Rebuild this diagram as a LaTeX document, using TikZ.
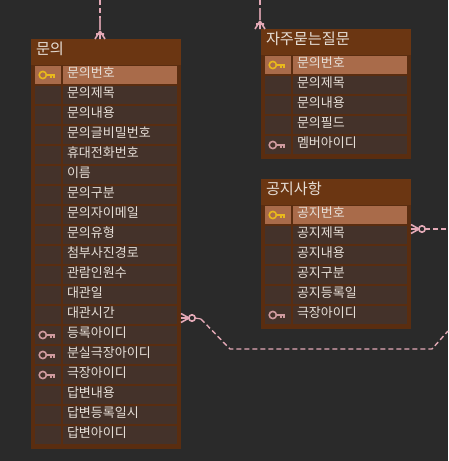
\documentclass[tikz,border=0pt]{standalone}
\usepackage{fontspec}
\setmainfont{Noto Sans CJK KR}
\usetikzlibrary{positioning}
\definecolor{canvasbg}{HTML}{2A2A2A}
\definecolor{headfill}{HTML}{6B3612}
\definecolor{framefill}{HTML}{5A2D10}
\definecolor{rowfill}{HTML}{44322A}
\definecolor{pkfill}{HTML}{A96B4A}
\definecolor{relpink}{HTML}{E3A9B6}
\definecolor{fkpink}{HTML}{CF9A9E}
\definecolor{keygold}{HTML}{E8B81C}
\definecolor{celltext}{HTML}{E6DED6}

\begin{document}
\begin{tikzpicture}[
    x=1pt, y=-1pt,
    outer sep=0pt,
    tablebox/.style={rectangle, fill=framefill, minimum width=150pt, inner sep=0pt},
    headbar/.style={rectangle, fill=headfill, minimum height=26pt, inner ysep=0pt, inner xsep=5pt, text width=140pt, text=celltext, font=\fontsize{15.2}{15.2}\selectfont, align=left, text height=10.5pt, text depth=5.5pt},
    valrow/.style={rectangle, fill=rowfill, minimum height=18pt, inner ysep=0pt, inner xsep=4pt, text width=106pt, text=celltext, font=\fontsize{13}{13}\selectfont, align=left, text height=9.5pt, text depth=4.5pt},
    iconrow/.style={rectangle, fill=rowfill, minimum width=26pt, minimum height=18pt, inner sep=0pt},
    relline/.style={relpink, line width=1.4pt, dash pattern=on 5pt off 3pt},
    keyicon/.pic={
        \draw[pic actions, line width=1.6pt] (-5.2,0) circle (3.6);
        \draw[pic actions, line width=1.6pt] (-1.6,0) -- (7,0) (3.2,0) -- (3.2,2.8) (6.2,0) -- (6.2,2.8);
    },
    manyend/.pic={
        \draw[relpink, line width=1.6pt] (8,0) -- (0,-5) (8,0) -- (0,0) (8,0) -- (0,5) (5,-4) -- (5,4);
    },
    optend/.pic={
        \draw[relpink, line width=1.6pt] (8,0) -- (0,-4.5) (8,0) -- (0,0) (8,0) -- (0,4.5);
        \draw[relpink, line width=1.6pt, fill=canvasbg] (11,0) circle (3.2);
    }
]
    \useasboundingbox[fill=canvasbg] (0,0) rectangle (448,461);

    % table qna
    \node[tablebox, minimum height=410pt] (qna) at (106,244) {};
    \node[headbar, below=0pt of qna.north] (qnahead) {문의};
    \node[valrow, fill=pkfill, below right=27pt and 32pt of qna.north west, anchor=north west] (qna1) {문의번호};
    \node[iconrow, fill=pkfill, left=2pt of qna1] (qnakey1) {};
    \foreach \txt [count=\r from 2, remember=\r as \p (initially 1)] in {문의제목,문의내용,문의글비밀번호,휴대전화번호,이름,문의구분,문의자이메일,문의유형,첨부사진경로,관람인원수,대관일,대관시간,등록아이디,분실극장아이디,극장아이디,답변내용,답변등록일시,답변아이디} {
        \node[valrow, below=2pt of qna\p] (qna\r) {\txt};
        \node[iconrow, left=2pt of qna\r] (qnakey\r) {};
    }

    % table faq
    \node[tablebox, minimum height=130pt] (faq) at (336,94) {};
    \node[headbar, below=0pt of faq.north] (faqhead) {자주묻는질문};
    \node[valrow, fill=pkfill, below right=27pt and 32pt of faq.north west, anchor=north west] (faq1) {문의번호};
    \node[iconrow, fill=pkfill, left=2pt of faq1] (faqkey1) {};
    \foreach \txt [count=\r from 2, remember=\r as \p (initially 1)] in {문의제목,문의내용,문의필드,멤버아이디} {
        \node[valrow, below=2pt of faq\p] (faq\r) {\txt};
        \node[iconrow, left=2pt of faq\r] (faqkey\r) {};
    }

    % table notice
    \node[tablebox, minimum height=150pt] (notice) at (336,254) {};
    \node[headbar, below=0pt of notice.north] (noticehead) {공지사항};
    \node[valrow, fill=pkfill, below right=27pt and 32pt of notice.north west, anchor=north west] (notice1) {공지번호};
    \node[iconrow, fill=pkfill, left=2pt of notice1] (noticekey1) {};
    \foreach \txt [count=\r from 2, remember=\r as \p (initially 1)] in {공지제목,공지내용,공지구분,공지등록일,극장아이디} {
        \node[valrow, below=2pt of notice\p] (notice\r) {\txt};
        \node[iconrow, left=2pt of notice\r] (noticekey\r) {};
    }

    % keys
    \pic[draw=keygold] at (qnakey1) {keyicon};
    \pic[draw=keygold] at (faqkey1) {keyicon};
    \pic[draw=keygold] at (noticekey1) {keyicon};
    \foreach \k in {qnakey14,qnakey15,qnakey16,faqkey5,noticekey6} {
        \pic[draw=fkpink] at (\k) {keyicon};
    }

    % free ends
    \coordinate (qnaup) at (100,0);
    \coordinate (qnafoot) at (100,30);
    \coordinate (faqup) at (260,0);
    \coordinate (faqfoot) at (260,20);
    \coordinate (bendA) at (201,319);
    \coordinate (bendB) at (230,349);
    \coordinate (bendC) at (432,349);
    \coordinate (offright) at (448,331);
    \coordinate (offnotice) at (448,229);

    % connectors
    \draw[relline] (qnaup) -- (qnafoot);
    \draw[relpink!85!black, line width=2.4pt] (100,18) -- (qnafoot);
    \pic[rotate=90] at (qna.north -| qnaup) {manyend};
    \draw[relline] (faqup) -- (faqfoot);
    \draw[relpink!85!black, line width=2.4pt] (260,8) -- (faqfoot);
    \pic[rotate=90] at (faq.north -| faqup) {manyend};
    \draw[relline] (bendA) -- (bendB) -- (bendC) -- (offright);
    \draw[relpink, line width=1.2pt] (195,318) -- (bendA);
    \pic at (qna.east |- 0,318) {optend};
    \draw[relline] (425,229) -- (offnotice);
    \pic at (notice.east |- 0,229) {optend};
\end{tikzpicture}
\end{document}
